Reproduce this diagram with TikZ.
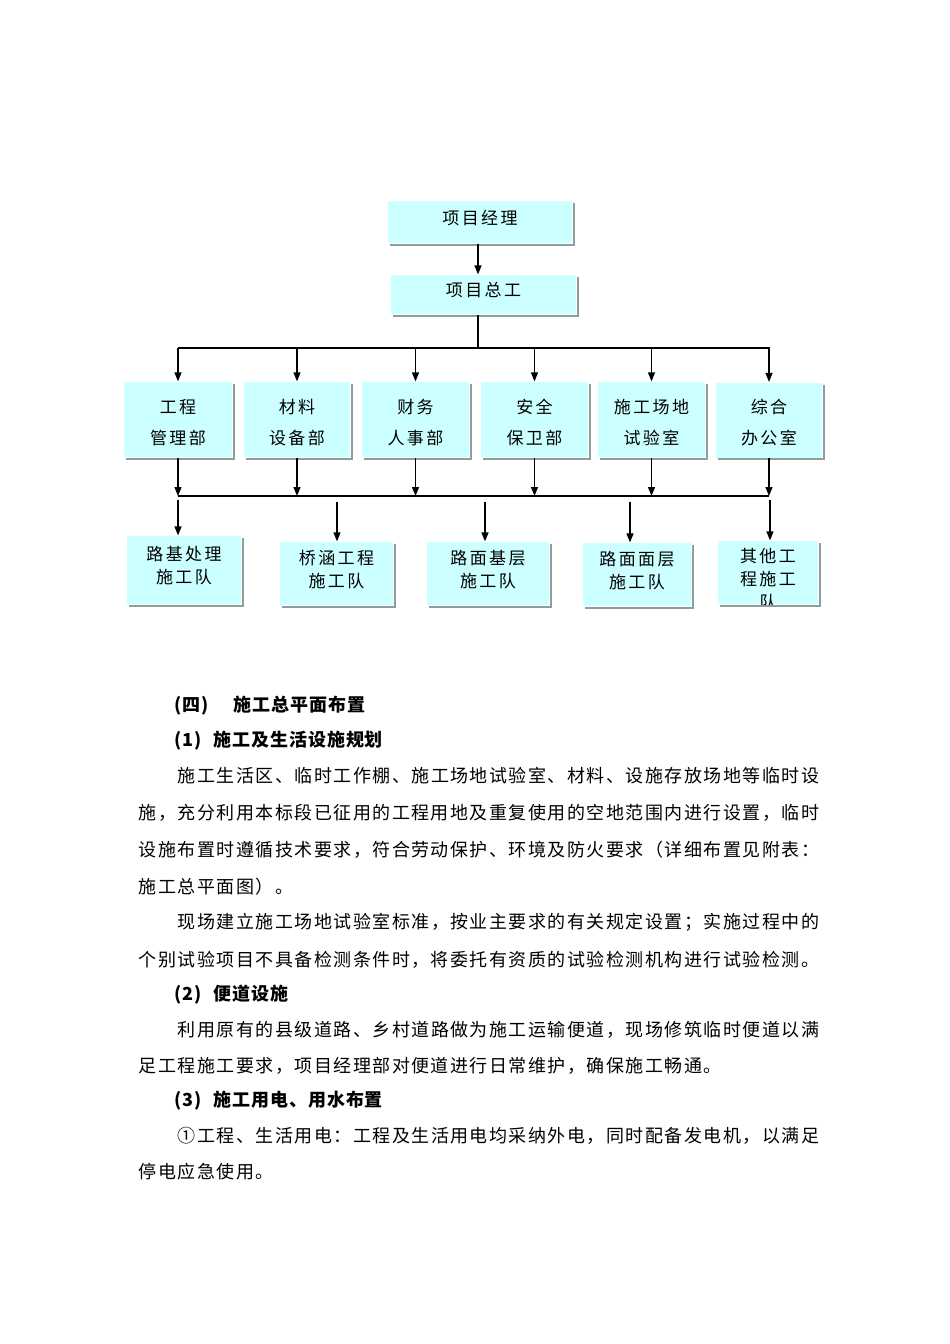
\documentclass[tikz,border=0pt]{standalone}
\usepackage{fontspec}
\newfontfamily\cjkbox[LetterSpace=14]{Noto Sans CJK SC}
\newfontfamily\cjktext[LetterSpace=8.3]{Noto Sans CJK SC}
\newfontfamily\cjkhead[LetterSpace=5]{Noto Sans CJK SC}
\usetikzlibrary{arrows.meta}
\definecolor{boxfill}{HTML}{CCFFFF}
\definecolor{boxedge}{HTML}{8E9E9E}
\begin{document}
\begin{tikzpicture}[x=1pt,y=-1pt,>={Triangle[width=7pt,length=9pt]},line width=1.2pt,
  box/.style={fill=boxfill,inner sep=0pt,align=center,font=\cjkbox\fontsize{17}{31}\selectfont},
  chief/.style={box,execute at end node=\rule[-10pt]{0pt}{0pt}},
  dept/.style={box,text height=51pt},
  team/.style={box,font=\cjkbox\fontsize{17}{23}\selectfont,execute at end node=\rule[-10pt]{0pt}{0pt}},
  shadowline/.style={draw=boxedge,line width=2.2pt},
  line/.style={anchor=west,inner sep=0pt,font=\cjktext\fontsize{18}{20}\selectfont},
  head/.style={anchor=west,inner sep=0pt,font=\cjkhead\bfseries\fontsize{18}{20}\selectfont}]
\fill[white] (0,0) rectangle (950,1344);
\useasboundingbox (0,0) rectangle (950,1344);
% top of the chart
\node[chief,minimum width=184pt,minimum height=42pt] (pm) at (480,222) {项目经理};
\node[chief,minimum width=185pt,minimum height=39pt] (ce) at (483.5,294.5) {项目总工};
% departments
\node[dept,minimum width=108pt,minimum height=75pt] (gc) at (178,419.5) {工程\\管理部};
\node[dept,minimum width=106pt,minimum height=75pt] (cl) at (297,419.5) {材料\\设备部};
\node[dept,minimum width=107pt,minimum height=75pt] (cw) at (415.5,419.5) {财务\\人事部};
\node[dept,minimum width=107pt,minimum height=75pt] (aq) at (534.5,419.5) {安全\\保卫部};
\node[dept,minimum width=107pt,minimum height=75pt] (sy) at (651.5,419.5) {施工场地\\试验室};
\node[dept,minimum width=106pt,minimum height=75pt] (zh) at (769,420) {综合\\办公室};
% teams
\node[team,minimum width=114pt,minimum height=68pt] (lj) at (184,570) {路基处理\\施工队};
\node[team,minimum width=113pt,minimum height=63pt] (qh) at (336.5,573.5) {桥涵工程\\施工队};
\node[team,minimum width=122pt,minimum height=63pt] (jc) at (488,573.5) {路面基层\\施工队};
\node[team,minimum width=108pt,minimum height=63pt] (mc) at (637,574.5) {路面面层\\施工队};
\node[team,minimum width=100pt,minimum height=63pt] (qt) at (768,572.5) {};
\begin{scope}
  \clip (qt.north west) rectangle (qt.south east);
  \node[team,fill=none] (qtt) at (768,583) {其他工\\程施工\\队};
\end{scope}
\foreach \n in {pm,ce,gc,cl,cw,aq,sy,zh,lj,qh,jc,mc,qt}
  \draw[shadowline] ([shift={(1.1pt,-3pt)}]\n.north east) -- ([shift={(1.1pt,-1.1pt)}]\n.south east) -- ([shift={(3pt,-1.1pt)}]\n.south west);
% connectors
\coordinate (top) at (478,348);
\coordinate (bus1w) at (178,348);
\coordinate (bus1e) at (770,348);
\coordinate (bus2w) at (178,496);
\coordinate (bus2e) at (769,496);
\draw[->] (pm.south -| top) -- (ce.north -| top);
\draw (ce.south -| top) -- (top);
\draw (bus1w) -- (bus1e);
\foreach \n in {gc,cl,cw,aq,sy,zh}{
  \draw[->] (\n.north |- bus1w) -- (\n.north);
  \draw[->] (\n.south) -- (\n.south |- bus2w);
}
\draw (bus2w) -- (bus2e);
\coordinate (d1) at (178,500);
\coordinate (d2) at (337,502);
\coordinate (d3) at (485,502);
\coordinate (d4) at (630,502);
\coordinate (d5) at (770,500);
\draw[->] (d1) -- (d1 |- lj.north);
\draw[->] (d2) -- (d2 |- qh.north);
\draw[->] (d3) -- (d3 |- jc.north);
\draw[->] (d4) -- (d4 |- mc.north);
\draw[->] (d5) -- (d5 |- qt.north);
% text below the chart
\node[head] (h1) at (174,706) {(四)\hspace{25pt}施工总平面布置};
\node[head] (h2) at (174,741) {(1)\hspace{12pt}施工及生活设施规划};
\node[line] (l1) at (177,776) {施工生活区、临时工作棚、施工场地试验室、材料、设施存放场地等临时设};
\node[line] (l2) at (138,813) {施，充分利用本标段已征用的工程用地及重复使用的空地范围内进行设置，临时};
\node[line] (l3) at (138,850) {设施布置时遵循技术要求，符合劳动保护、环境及防火要求（详细布置见附表：};
\node[line] (l4) at (138,887) {施工总平面图）。};
\node[line] (l5) at (177,922) {现场建立施工场地试验室标准，按业主要求的有关规定设置；实施过程中的};
\node[line] (l6) at (138,960) {个别试验项目不具备检测条件时，将委托有资质的试验检测机构进行试验检测。};
\node[head] (h3) at (174,995) {(2)\hspace{12pt}便道设施};
\node[line] (l7) at (177,1030) {利用原有的县级道路、乡村道路做为施工运输便道，现场修筑临时便道以满};
\node[line] (l8) at (138,1066) {足工程施工要求，项目经理部对便道进行日常维护，确保施工畅通。};
\node[head] (h4) at (174,1101) {(3)\hspace{12pt}施工用电、用水布置};
\node[line] (l9) at (177,1136) {①工程、生活用电：工程及生活用电均采纳外电，同时配备发电机，以满足};
\node[line] (l10) at (138,1172) {停电应急使用。};
\end{tikzpicture}
\end{document}
